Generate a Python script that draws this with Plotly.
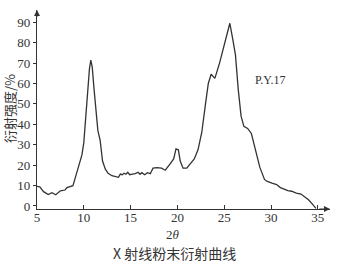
import plotly.graph_objects as go

two_theta = [5.0, 5.3, 5.7, 6.2, 6.6, 7.0, 7.5, 8.0, 8.2, 8.5, 8.84, 9.1, 9.5, 9.8, 10.0, 10.2, 10.4, 10.6, 10.75,
             10.9, 11.1, 11.3, 11.5, 11.75, 12.0, 12.3, 12.6, 13.0, 13.4, 13.7, 13.9, 14.1, 14.3, 14.5, 14.7, 14.9,
             15.2, 15.5, 15.8, 16.0, 16.2, 16.5, 16.8, 17.1, 17.4, 17.8, 18.3, 18.7, 19.2, 19.6, 19.85, 20.1, 20.3,
             20.6, 21.0, 21.3, 21.8, 22.2, 22.6, 23.0, 23.3, 23.6, 23.8, 24.0, 24.5, 25.0, 25.4, 25.6, 25.9, 26.2,
             26.5, 26.8, 27.1, 27.5, 27.9, 28.3, 28.8, 29.3, 29.6, 30.1, 30.6, 31.0, 31.4, 31.8, 32.2, 32.7, 33.2,
             33.6, 34.0, 34.4, 34.8]
intensity = [9.6, 9.3, 7.0, 5.6, 6.5, 5.5, 7.4, 7.8, 9.0, 9.5, 9.9, 14.0, 20.5, 25.0, 31.0, 44.0, 57.0, 67.0, 71.5,
             68.0, 57.0, 45.0, 37.0, 32.0, 22.0, 18.0, 16.0, 14.8, 14.2, 14.0, 15.6, 15.3, 16.0, 15.5, 16.5, 15.3,
             15.6, 15.8, 16.5, 15.5, 16.3, 15.3, 16.3, 15.8, 18.5, 18.8, 18.5, 17.5, 20.5, 23.0, 28.0, 27.5, 22.0,
             18.5, 18.5, 20.0, 23.0, 27.5, 36.0, 50.0, 60.0, 64.5, 63.5, 62.5, 70.0, 79.0, 86.0, 89.5, 82.0, 74.0,
             57.0, 44.0, 39.0, 38.0, 35.5, 27.5, 19.0, 13.0, 12.0, 11.2, 10.5, 9.0, 8.2, 7.5, 7.2, 6.3, 5.8,
             4.6, 3.0, 1.0, -1.2]

x_ticks = [5, 10, 15, 20, 25, 30, 35]
y_ticks = [0, 10, 20, 30, 40, 50, 60, 70, 80, 90]

ink = "#333333"
serif = "Liberation Serif, Times New Roman, serif"
cjk = "Noto Sans CJK SC, " + serif

fig = go.Figure()
fig.add_trace(go.Scatter(x=two_theta, y=intensity, mode="lines",
                         line=dict(color=ink, width=1.3), showlegend=False,
                         hoverinfo="skip"))

fig.update_layout(
    width=339, height=264,
    margin=dict(l=37, r=9, t=10, b=55),
    paper_bgcolor="white", plot_bgcolor="white",
    font=dict(family=serif, color=ink, size=13),
    xaxis=dict(range=[5, 36.3], tickvals=x_ticks, ticktext=[str(v) for v in x_ticks],
               showgrid=False, zeroline=False, showline=True, linecolor=ink, linewidth=1.2,
               ticks="inside", ticklen=4, tickcolor=ink, tickwidth=1, ticklabelstandoff=-4,
               tickfont=dict(family=serif, size=13, color=ink)),
    yaxis=dict(range=[-1.5, 96], tickvals=y_ticks, ticktext=[str(v) for v in y_ticks],
               showgrid=False, zeroline=False, showline=True, linecolor=ink, linewidth=1.2,
               ticks="outside", ticklen=3, tickcolor=ink, tickwidth=1,
               tickfont=dict(family=serif, size=13, color=ink)),
)

# axis arrows
fig.add_annotation(x=36.3, y=-1.5, ax=35.0, ay=-1.5, xref="x", yref="y", axref="x", ayref="y",
                   showarrow=True, arrowhead=2, arrowsize=1, arrowwidth=1.2, arrowcolor=ink, text="")
fig.add_annotation(x=5, y=96, ax=5, ay=92, xref="x", yref="y", axref="x", ayref="y",
                   showarrow=True, arrowhead=2, arrowsize=1, arrowwidth=1.2, arrowcolor=ink, text="")

fig.add_annotation(x=29.9, y=61.7, xref="x", yref="y", text="P.Y.17", showarrow=False,
                   xanchor="center", yanchor="middle",
                   font=dict(family=serif, size=12, color=ink))
fig.add_annotation(x=(173 - 37) / 293, y=-(234 - 209) / 199, xref="paper", yref="paper",
                   xanchor="center", yanchor="middle",
                   text="2<i>θ</i>", showarrow=False, font=dict(family=serif, size=13, color=ink))
fig.add_annotation(x=(174 - 37) / 293, y=-(253 - 209) / 199, xref="paper", yref="paper",
                   xanchor="center", yanchor="middle",
                   text="X 射线粉末衍射曲线", showarrow=False,
                   font=dict(family=cjk, size=14, color=ink))
fig.add_annotation(x=(9 - 37) / 293, y=(209 - 108) / 199, xref="paper", yref="paper",
                   xanchor="center", yanchor="middle",
                   text="衍射强度/%", textangle=-90, showarrow=False,
                   font=dict(family=cjk, size=13, color=ink))

fig.write_html("out.html")
